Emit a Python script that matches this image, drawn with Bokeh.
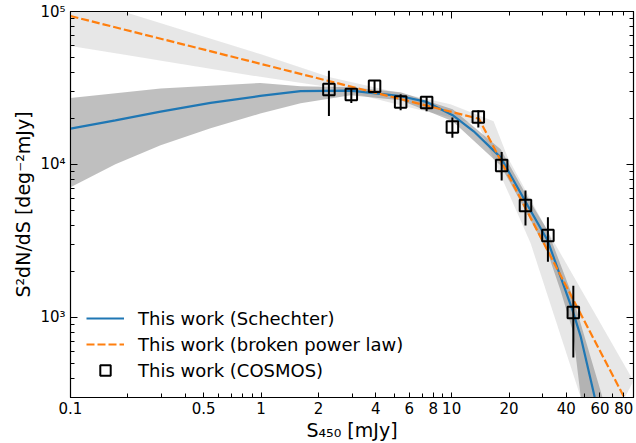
from bokeh.plotting import figure
from bokeh.models import FixedTicker, LogAxis, Legend, LegendItem, ColumnDataSource
from bokeh.embed import file_html
from bokeh.resources import INLINE

# ---- data ----
cosmos_s = [2.27, 2.975, 3.94, 5.40, 7.39, 10.09, 13.8, 18.3, 24.4, 32.0, 43.5]
cosmos_n = [30930, 28670, 32500, 25640, 25410, 17580, 20440, 9865, 5395, 3431, 1078]
cosmos_lo = [20760, 25270, 29900, 22620, 22280, 14980, 17430, 7866, 3990, 2317, 547]
cosmos_hi = [40930, 31410, 35300, 28800, 27650, 20260, 22620, 12060, 6764, 4522, 1613]

sch_s = [0.1, 0.172, 0.297, 0.543, 0.990, 1.612, 2.95, 5.40, 7.39, 10.12, 13.05,
         18.08, 25.06, 31.9, 43.2, 47.6, 56.3, 60.5]
sch_n = [17170, 19450, 22180, 25260, 28070, 30130, 30360, 27950, 25640, 20990,
         16480, 11130, 5395, 3184, 1106, 747, 302, 210]

sch_up_s = [0.1, 0.297, 0.990, 1.612, 2.95, 5.40, 10.12, 18.08, 25.06, 31.9, 43.2, 61.8, 66.0]
sch_up_n = [27230, 31380, 34150, 32500, 32000, 29690, 22960, 12560, 6085, 3700, 1368, 302, 220]
sch_lo_s = [0.1, 0.172, 0.297, 0.543, 0.990, 1.612, 2.95, 5.40, 10.12, 18.08, 25.06,
            31.9, 37.3, 43.2, 47.6, 50.5]
sch_lo_n = [7100, 10020, 13340, 17250, 21520, 25140, 28370, 26300, 19160, 9860, 4710,
            2655, 1496, 818, 302, 250]

bpl_s = [0.1, 13.9, 90.0]
bpl_n = [93400, 19900, 230]

bpl_up_s = [0.1, 0.2, 0.99, 2.3, 5.4, 9.86, 16.6, 19.7, 31.8, 90.0]
bpl_up_n = [128000, 97800, 52700, 37220, 29240, 24760, 19200, 11100, 3700, 385]
bpl_lo_s = [0.1, 0.2, 0.99, 2.3, 5.4, 9.86, 13.9, 18.1, 26.0, 47.5, 60.5]
bpl_lo_n = [59400, 51700, 37400, 32000, 24390, 20350, 18000, 8490, 3040, 302, 150]

x_major = [0.1, 0.5, 1, 2, 4, 6, 8, 10, 20, 40, 60, 80]
x_major_labels = ["0.1", "0.5", "1", "2", "4", "6", "8", "10", "20", "40", "60", "80"]
x_decades = [0.1, 1, 10]
x_minor = [0.2, 0.3, 0.4, 0.5, 0.6, 0.7, 0.8, 0.9, 2, 3, 4, 5, 6, 7, 8, 9,
           20, 30, 40, 50, 60, 70, 80, 90]
y_major = [1e3, 1e4, 1e5]
y_major_labels = ["10³", "10⁴", "10⁵"]
y_minor = [m * d for d in (100, 1000, 10000) for m in range(2, 10)]

FONT = "DejaVu Sans"

p = figure(width=636, height=443, x_axis_type="log", y_axis_type="log",
           x_range=(0.1, 90), y_range=(300, 1e5),
           output_backend="svg", toolbar_location=None,
           min_border_left=70, min_border_right=3, min_border_top=11, min_border_bottom=46)
p.xgrid.visible = False
p.ygrid.visible = False
p.outline_line_color = "black"
p.outline_line_width = 1.2
p.background_fill_color = "white"

# bands
p.patch(x=bpl_up_s + bpl_lo_s[::-1], y=bpl_up_n + bpl_lo_n[::-1],
        fill_color="#d3d3d3", fill_alpha=0.55, line_color=None)
p.patch(x=sch_up_s + sch_lo_s[::-1], y=sch_up_n + sch_lo_n[::-1],
        fill_color="#808080", fill_alpha=0.5, line_color=None)

r_sch = p.line(sch_s, sch_n, line_color="#1f77b4", line_width=2.2)
r_bpl = p.line(bpl_s, bpl_n, line_color="#ff7f0e", line_width=2.2, line_dash="8 3")

src = ColumnDataSource(dict(s=cosmos_s, n=cosmos_n, lo=cosmos_lo, hi=cosmos_hi))
p.segment(x0="s", y0="lo", x1="s", y1="hi", source=src, line_color="black", line_width=2)
r_sq = p.scatter(x="s", y="n", source=src, marker="square", size=11.5,
                 fill_alpha=0, line_color="black", line_width=2)

# axes
xb = p.xaxis[0]
xb.ticker = FixedTicker(ticks=x_major, minor_ticks=x_minor)
xb.major_label_overrides = {v: l for v, l in zip(x_major, x_major_labels)}
yl = p.yaxis[0]
yl.ticker = FixedTicker(ticks=y_major, minor_ticks=y_minor)
yl.major_label_overrides = {v: l for v, l in zip(y_major, y_major_labels)}

xt = LogAxis(ticker=FixedTicker(ticks=x_decades, minor_ticks=x_minor))
yr = LogAxis(ticker=FixedTicker(ticks=y_major, minor_ticks=y_minor))
p.add_layout(xt, "above")
p.add_layout(yr, "right")

for ax in (xb, yl, xt, yr):
    ax.major_tick_out = 0
    ax.minor_tick_out = 0
    ax.major_tick_in = 7
    ax.minor_tick_in = 4
    ax.major_tick_line_color = "black"
    ax.minor_tick_line_color = "black"
    ax.axis_line_color = "black"
    ax.major_label_text_font = FONT
    ax.major_label_text_font_size = "15px"
    ax.major_label_text_color = "black"
    ax.axis_label_text_font = FONT
    ax.axis_label_text_font_style = "normal"
    ax.axis_label_text_font_size = "19px"
    ax.axis_label_text_color = "black"
xb.major_tick_in = 5
for ax in (xt, yr):
    ax.major_label_text_font_size = "1px"
    ax.major_label_text_alpha = 0
    ax.major_label_standoff = 0

xb.axis_label = "S₄₅₀ [mJy]"
xb.major_label_standoff = 4
xb.axis_label_standoff = 2
yl.axis_label = "S²dN/dS [deg⁻²mJy]"
yl.major_label_standoff = 5
yl.axis_label_standoff = 3

legend = Legend(items=[
    LegendItem(label="This work (Schechter)", renderers=[r_sch]),
    LegendItem(label="This work (broken power law)", renderers=[r_bpl]),
    LegendItem(label="This work (COSMOS)", renderers=[r_sq]),
], location=(16, 14))
legend.background_fill_alpha = 0
legend.border_line_alpha = 0
legend.padding = 0
legend.margin = 0
legend.spacing = 0
legend.glyph_width = 38
legend.glyph_height = 26
legend.label_height = 26
legend.label_standoff = 14
legend.label_text_font = FONT
legend.label_text_font_size = "18px"
legend.label_text_color = "black"
p.add_layout(legend)

open("out.html", "w").write(file_html(p, INLINE))
